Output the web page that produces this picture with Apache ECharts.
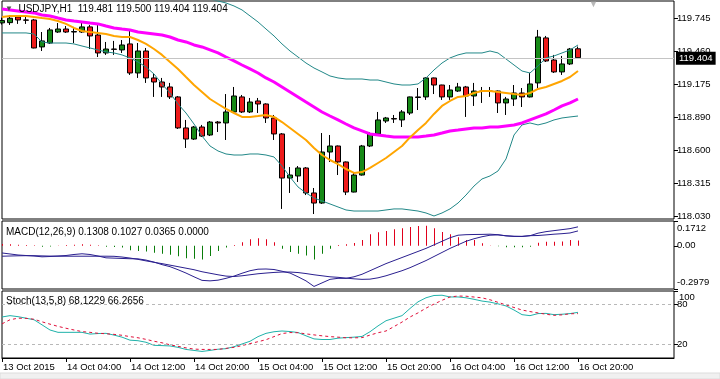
<!DOCTYPE html>
<html><head><meta charset="utf-8">
<script src="https://cdn.jsdelivr.net/npm/echarts@6/dist/echarts.min.js"></script>
<style>html,body{margin:0;padding:0;background:#fff}#c{width:720px;height:379px}</style>
</head><body><div id="c"></div>
<script>
const symbol = 'USDJPY,H1';
const tickLabels = ['13 Oct 2015','14 Oct 04:00','14 Oct 12:00','14 Oct 20:00','15 Oct 04:00','15 Oct 12:00','15 Oct 20:00','16 Oct 04:00','16 Oct 12:00','16 Oct 20:00'];
const barsPerLabel = 8;
const emptyBars = 12;
// [open, close, low, high]
const candles = [
[119.705,119.725,119.690,119.750],[119.707,119.745,119.687,119.773],[119.756,119.730,119.696,119.773],[119.730,119.728,119.696,119.756],
[119.730,119.488,119.485,119.739],[119.497,119.549,119.462,119.626],[119.531,119.644,119.523,119.661],[119.626,119.652,119.618,119.704],
[119.652,119.626,119.618,119.678],[119.626,119.630,119.531,119.670],[119.626,119.670,119.618,119.713],[119.670,119.592,119.479,119.687],
[119.600,119.445,119.410,119.696],[119.445,119.479,119.428,119.540],[119.479,119.476,119.428,119.549],[119.471,119.514,119.445,119.557],
[119.523,119.272,119.255,119.644],[119.272,119.462,119.229,119.531],[119.462,119.229,119.186,119.488],[119.229,119.194,119.065,119.263],
[119.194,119.151,119.065,119.229],[119.151,119.065,119.047,119.186],[119.065,118.797,118.788,119.073],[118.797,118.701,118.624,118.866],
[118.701,118.805,118.693,118.814],[118.805,118.727,118.719,118.823],[118.736,118.848,118.727,118.857],[118.848,118.840,118.762,118.857],
[118.840,118.935,118.693,119.090],[118.935,119.073,118.926,119.151],[119.065,118.935,118.926,119.082],[118.935,119.021,118.926,119.056],
[119.030,119.004,118.926,119.056],[119.004,118.883,118.840,119.010],[118.883,118.745,118.693,118.909],[118.745,118.364,118.097,118.753],
[118.364,118.390,118.235,118.459],[118.382,118.451,118.330,118.468],[118.451,118.235,118.217,118.459],[118.235,118.148,118.053,118.278],
[118.148,118.589,118.140,118.753],[118.589,118.641,118.503,118.736],[118.641,118.503,118.390,118.645],[118.503,118.243,118.217,118.507],
[118.243,118.390,118.240,118.408],[118.390,118.641,118.385,118.650],[118.641,118.745,118.632,118.762],[118.745,118.866,118.736,118.935],
[118.857,118.883,118.840,118.892],[118.878,118.874,118.840,118.909],[118.866,118.935,118.805,118.952],[118.926,119.065,118.909,119.068],
[119.065,119.060,118.952,119.142],[119.065,119.229,119.039,119.235],[119.229,119.168,119.090,119.232],[119.168,119.065,119.039,119.170],
[119.065,119.125,119.039,119.168],[119.116,119.151,119.108,119.186],[119.151,119.073,118.892,119.160],[119.073,119.116,118.987,119.186],
[119.116,119.112,119.013,119.151],[119.112,119.116,119.065,119.151],[119.116,119.013,118.926,119.120],[119.013,119.047,118.909,119.065],
[119.047,119.099,118.987,119.168],[119.099,119.065,118.978,119.142],[119.065,119.177,119.060,119.272],[119.186,119.583,119.142,119.644],
[119.575,119.376,119.367,119.592],[119.384,119.281,119.272,119.428],[119.281,119.350,119.255,119.419],[119.350,119.479,119.341,119.488],
[119.481,119.404,119.404,119.500]
];
const bbUpper = [119.920,119.930,119.935,119.940,119.945,119.955,119.960,119.965,119.970,119.975,119.975,119.975,119.980,119.985,119.985,119.980,119.975,119.970,119.965,119.960,119.955,119.950,119.945,119.935,119.930,119.925,119.912,
119.894,119.877,119.851,119.817,119.765,119.713,119.652,119.592,119.523,119.462,119.410,119.358,119.315,119.281,119.246,119.229,119.220,119.220,119.220,119.211,119.211,119.194,119.177,119.168,119.168,119.177,119.229,119.298,119.358,119.402,119.428,119.445,119.445,119.445,119.462,119.445,119.393,119.341,119.289,119.272,119.333,119.402,119.419,119.445,119.471,119.514];
const bbLower = [119.618,119.618,119.618,119.618,119.609,119.540,119.531,119.531,119.531,119.523,119.505,119.488,119.471,119.454,119.445,119.428,119.402,119.367,119.324,119.263,119.177,119.099,119.004,118.926,118.831,118.727,118.641,118.598,118.572,118.563,118.563,118.572,118.572,118.563,118.546,118.468,118.373,118.287,118.235,118.191,118.166,118.140,118.114,118.088,118.079,118.079,118.079,118.079,118.088,118.097,118.097,118.088,118.079,118.062,118.036,118.062,118.097,118.148,118.217,118.295,118.356,118.382,118.425,118.529,118.736,118.823,118.840,118.823,118.840,118.866,118.883,118.892,118.900];
const maSlow = [119.825,119.817,119.808,119.799,119.791,119.773,119.765,119.747,119.730,119.721,119.713,119.704,119.696,119.678,119.661,119.652,119.644,119.626,119.618,119.609,119.600,119.583,119.557,119.540,119.514,119.497,119.471,119.445,119.410,119.376,119.341,119.307,119.272,119.229,119.194,119.151,119.108,119.065,119.021,118.978,118.935,118.900,118.866,118.831,118.797,118.771,118.745,118.736,118.727,118.719,118.719,118.719,118.719,118.727,118.736,118.753,118.771,118.779,118.788,118.797,118.797,118.805,118.805,118.814,118.823,118.840,118.866,118.892,118.918,118.952,118.987,119.013,119.047];
const maFast = [119.756,119.765,119.765,119.765,119.756,119.747,119.739,119.721,119.696,119.661,119.635,119.626,119.618,119.609,119.592,119.583,119.583,119.557,119.523,119.479,119.428,119.367,119.307,119.237,119.168,119.108,119.047,119.004,118.961,118.926,118.892,118.892,118.900,118.909,118.892,118.848,118.797,118.745,118.693,118.624,118.563,118.520,118.485,118.442,118.408,118.416,118.451,118.494,118.537,118.589,118.641,118.715,118.780,118.840,118.918,118.987,119.030,119.065,119.073,119.099,119.116,119.116,119.108,119.099,119.090,119.082,119.099,119.134,119.151,119.177,119.203,119.237,119.289];
const macdHist = [0.012,0.010,0.008,0.006,0.004,-0.006,-0.004,0.003,0.005,0.008,0.010,0.008,0.004,-0.006,-0.008,-0.012,-0.030,-0.035,-0.040,-0.048,-0.055,-0.062,-0.072,-0.085,-0.090,-0.095,-0.070,-0.035,-0.012,0.006,0.025,0.045,0.052,0.046,0.025,-0.020,-0.043,-0.055,-0.066,-0.094,-0.055,-0.020,0.005,0.010,0.020,0.040,0.080,0.094,0.103,0.115,0.122,0.129,0.136,0.138,0.122,0.096,0.080,0.059,0.040,0.040,0.017,0.003,-0.003,-0.010,-0.010,-0.010,-0.006,0.022,0.028,0.028,0.030,0.040,0.0365];
const macdMain = [-0.0493,-0.0563,-0.0633,-0.0668,-0.0703,-0.0759,-0.0738,-0.0703,-0.0668,-0.0598,-0.0549,-0.0598,-0.0703,-0.0829,-0.0850,-0.0871,-0.0892,-0.0899,-0.0983,-0.1123,-0.1298,-0.1438,-0.1648,-0.1879,-0.2138,-0.2383,-0.2418,-0.2369,-0.2243,-0.2089,-0.1893,-0.1718,-0.1613,-0.1599,-0.1634,-0.1753,-0.1879,-0.2138,-0.2418,-0.2803,-0.2558,-0.2313,-0.2243,-0.2243,-0.2138,-0.1963,-0.1718,-0.1473,-0.1228,-0.1018,-0.0808,-0.0598,-0.0388,-0.0178,0.0067,0.0312,0.0557,0.0732,0.0767,0.0781,0.0788,0.0802,0.0767,0.0683,0.0648,0.0641,0.0697,0.0872,0.0977,0.1047,0.1117,0.1187,0.1308];
const macdSignal = [-0.0717,-0.0703,-0.0689,-0.0682,-0.0682,-0.0696,-0.0710,-0.0717,-0.0717,-0.0717,-0.0717,-0.0717,-0.0717,-0.0717,-0.0724,-0.0773,-0.0843,-0.0934,-0.1039,-0.1137,-0.1228,-0.1333,-0.1438,-0.1543,-0.1648,-0.1788,-0.1893,-0.1998,-0.2089,-0.2117,-0.2068,-0.1998,-0.1928,-0.1879,-0.1837,-0.1809,-0.1809,-0.1844,-0.1914,-0.1998,-0.2068,-0.2138,-0.2173,-0.2229,-0.2278,-0.2313,-0.2299,-0.2208,-0.2068,-0.1893,-0.1718,-0.1508,-0.1263,-0.1018,-0.0738,-0.0458,-0.0178,0.0067,0.0312,0.0487,0.0627,0.0732,0.0753,0.0697,0.0660,0.0655,0.0700,0.0711,0.0753,0.0802,0.0837,0.0886,0.1027];
const stochMain = [61.2,63.2,61.7,59.4,57.1,49.5,41.8,38.3,38.3,38.3,38.3,35.7,36.5,36.8,34.2,31.1,26.6,25.8,23.5,18.9,18.5,18.0,15.9,12.8,11.3,9.8,11.3,13.1,13.9,16.9,20.9,25.0,31.9,36.8,39.2,40.3,39.5,38.0,33.1,28.5,27.6,27.6,29.6,30.4,31.1,32.2,39.2,47.9,55.6,59.4,63.2,73.9,83.8,89.9,93.3,93.7,91.1,91.1,89.9,87.6,85.0,83.4,80.8,77.7,71.6,64.7,63.2,66.3,66.6,64.7,65.3,66.3,68.1229];
const stochSignal = [51.0,57.1,59.4,59.2,57.9,54.0,50.5,47.2,44.4,41.8,39.4,38.3,36.9,36.2,35.3,33.9,31.9,30.2,27.8,25.0,22.7,19.7,17.4,15.1,13.3,12.8,12.8,12.8,14.4,15.9,18.5,21.5,24.3,27.3,31.9,36.5,38.0,37.7,36.0,34.5,33.1,31.9,31.1,30.2,30.1,30.4,34.2,37.7,40.3,46.9,53.6,61.2,67.3,74.4,80.5,86.1,91.1,92.5,92.2,91.0,89.8,86.9,83.1,79.2,75.4,71.6,69.3,67.3,65.3,63.7,64.4,66.0,66.2656];
const priceTicks = [118.030,118.315,118.600,118.890,119.175,119.460,119.745];
const priceRange = [118.010, 119.894];
const macdRange = [-0.2979, 0.1712];
const macdTicks = [-0.2979, 0, 0.1712];
const macdTickLabels = ['-0.2979','0.00','0.1712'];
const stochTicks = [20, 80];
const stochTopTick = [100];
const stochLevels = [20, 80];
const macdHeader = ['0.1308','0.1027','0.0365','0.0000'];
const stochHeader = ['68.1229','66.2656'];

const F = '"Liberation Sans", Arial, sans-serif';
const n = candles.length + emptyBars;
const cats = Array.from({length: n}, (_, i) => i);
const last = candles[candles.length - 1];
const lastClose = last[1];
const header = symbol + '  ' + [last[0], last[3], last[2], last[1]].map(v => v.toFixed(3)).join(' ');
const showLab = (idx) => idx % barsPerLabel === 0 && idx / barsPerLabel < tickLabels.length;
const nearestIdx = (arr, v) => { let b = 0; arr.forEach((a, i) => { if (Math.abs(a - v) < Math.abs(arr[b] - v)) b = i; }); return b; };

const gridBase = {left: 2, width: 672, show: true, borderColor: '#000', borderWidth: 1, backgroundColor: '#fff'};
const xBase = (gi) => ({type: 'category', gridIndex: gi, data: cats, boundaryGap: false,
  axisLine: {show: false}, axisTick: {show: false}, axisLabel: {show: false}, splitLine: {show: false}});
const lab = {color: '#000', fontSize: 9.5, fontFamily: F};
const ttl = {fontSize: 10, fontWeight: 'normal', color: '#000', fontFamily: F};

const chart = echarts.init(document.getElementById('c'), null, {renderer: 'canvas'});
chart.setOption({
  animation: false,
  backgroundColor: '#fff',
  title: [
    {left: 5, top: 4, padding: 0, text: '{a|▼}  ' + header, textStyle: Object.assign({rich: {a: {color: '#505050', fontSize: 8, fontFamily: F}}}, ttl)},
    {left: 6, top: 227, padding: 0, text: 'MACD(12,26,9) ' + macdHeader.join(' '), textStyle: ttl},
    {left: 6, top: 296, padding: 0, text: 'Stoch(13,5,8) ' + stochHeader.join(' '), textStyle: ttl},
    {left: 589, top: 0, padding: 0, text: '▼', textStyle: {fontSize: 9, fontWeight: 'normal', color: '#b8b8b8', fontFamily: F}}
  ],
  graphic: [{type: 'rect', shape: {x: 0, y: 373, width: 720, height: 6}, style: {fill: '#f0f0f0', stroke: '#dcdcdc', lineWidth: 1}, z: -1}],
  grid: [
    Object.assign({top: 1, height: 218}, gridBase),
    Object.assign({top: 221, height: 68}, gridBase),
    Object.assign({top: 291, height: 67}, gridBase),
    {left: 2.5, width: 672, top: 221, height: 68, show: false}
  ],
  xAxis: [xBase(0), xBase(1), Object.assign(xBase(2), {
    axisLine: {show: true, lineStyle: {color: '#000'}},
    axisTick: {show: true, interval: showLab, length: 4, lineStyle: {color: '#000'}},
    axisLabel: Object.assign({show: true, interval: showLab, align: 'left', margin: 4, padding: [0, 0, 0, 1],
      formatter: (v, idx) => tickLabels[idx / barsPerLabel] || ''}, lab)
  }), xBase(3)],
  yAxis: [
    {type: 'value', gridIndex: 0, position: 'right', min: priceRange[0], max: priceRange[1],
      axisLine: {show: false}, splitLine: {show: false},
      axisTick: {show: true, customValues: priceTicks, length: 4, lineStyle: {color: '#000'}},
      axisLabel: Object.assign({customValues: priceTicks, margin: 3, showMinLabel: true, showMaxLabel: true, hideOverlap: false, formatter: v => Number(v).toFixed(3)}, lab)},
    {type: 'value', gridIndex: 1, position: 'right', min: macdRange[0], max: macdRange[1],
      axisLine: {show: false}, splitLine: {show: false},
      axisTick: {show: true, customValues: macdTicks, length: 4, lineStyle: {color: '#000'}},
      axisLabel: Object.assign({customValues: macdTicks, margin: 3, showMinLabel: true, showMaxLabel: true, hideOverlap: false,
        formatter: v => { const k = nearestIdx(macdTicks, v); const t = macdTickLabels[k];
          return k === macdTicks.length - 1 ? '{t|' + t + '}' : (k === 0 ? '{b|' + t + '}' : t); },
        rich: {t: Object.assign({padding: [15, 0, 0, 0]}, lab), b: Object.assign({padding: [0, 0, 13, 0]}, lab)}}, lab)},
    {type: 'value', gridIndex: 2, position: 'right', min: 0, max: 100,
      axisLine: {show: false}, splitLine: {show: false},
      axisTick: {show: true, customValues: stochTicks, length: 4, lineStyle: {color: '#000'}},
      axisLabel: Object.assign({customValues: stochTicks, margin: 3, showMinLabel: true, showMaxLabel: true, hideOverlap: false,
        formatter: v => String(Math.round(v))}, lab)},
    {type: 'value', gridIndex: 3, min: macdRange[0], max: macdRange[1], show: false},
    {type: 'value', gridIndex: 2, position: 'right', min: 0, max: 100,
      axisLine: {show: false}, splitLine: {show: false},
      axisTick: {show: true, customValues: stochTopTick, length: 4, lineStyle: {color: '#000'}},
      axisLabel: Object.assign({customValues: stochTopTick, margin: 5, showMinLabel: true, showMaxLabel: true,
        formatter: v => '{t|' + Math.round(v) + '}',
        rich: {t: Object.assign({padding: [12, 0, 0, 0]}, lab)}}, lab)}
  ],
  series: [
    {type: 'candlestick', xAxisIndex: 0, yAxisIndex: 0, data: candles, barWidth: 5, z: 2,
      itemStyle: {color: '#178a17', color0: '#ee1b1b', borderColor: '#000', borderColor0: '#000', borderColorDoji: '#000', borderWidth: 1},
      markLine: {silent: true, symbol: ['none', 'none'], animation: false, data: [{yAxis: lastClose}],
        lineStyle: {color: '#c4c4c4', type: 'solid', width: 1},
        label: {show: true, position: 'end', distance: 2, formatter: lastClose.toFixed(3), backgroundColor: '#000', color: '#fff',
          padding: [2, 3, 1, 3], fontSize: 9.5, fontFamily: F}}},
    {type: 'line', xAxisIndex: 0, yAxisIndex: 0, data: bbUpper, symbol: 'none', z: 3, lineStyle: {color: '#228888', width: 1}},
    {type: 'line', xAxisIndex: 0, yAxisIndex: 0, data: bbLower, symbol: 'none', z: 3, lineStyle: {color: '#228888', width: 1}},
    {type: 'line', xAxisIndex: 0, yAxisIndex: 0, data: maSlow, symbol: 'none', z: 3, lineStyle: {color: '#ff00ff', width: 3}},
    {type: 'line', xAxisIndex: 0, yAxisIndex: 0, data: maFast, symbol: 'none', z: 3, lineStyle: {color: '#ffa500', width: 2}},
    {type: 'bar', xAxisIndex: 3, yAxisIndex: 3, data: macdHist, barWidth: 1, z: 3,
      itemStyle: {color: p => p.value >= 0 ? '#e0001c' : '#0a7d0a'}},
    {type: 'line', xAxisIndex: 1, yAxisIndex: 1, data: macdMain, symbol: 'none', z: 4, lineStyle: {color: '#2a1f8f', width: 1}},
    {type: 'line', xAxisIndex: 1, yAxisIndex: 1, data: macdSignal, symbol: 'none', z: 4, lineStyle: {color: '#2a1f8f', width: 1}},
    {type: 'line', xAxisIndex: 2, yAxisIndex: 2, data: stochMain, symbol: 'none', lineStyle: {color: '#20b2aa', width: 1},
      markLine: {silent: true, symbol: ['none', 'none'], animation: false, data: stochLevels.map(v => ({yAxis: v})),
        lineStyle: {color: '#b8b8b8', type: [3, 3], width: 1}, label: {show: false}}},
    {type: 'line', xAxisIndex: 2, yAxisIndex: 2, data: stochSignal, symbol: 'none', lineStyle: {color: '#e0103a', width: 1, type: [3, 3]}}
  ]
});
</script></body></html>
